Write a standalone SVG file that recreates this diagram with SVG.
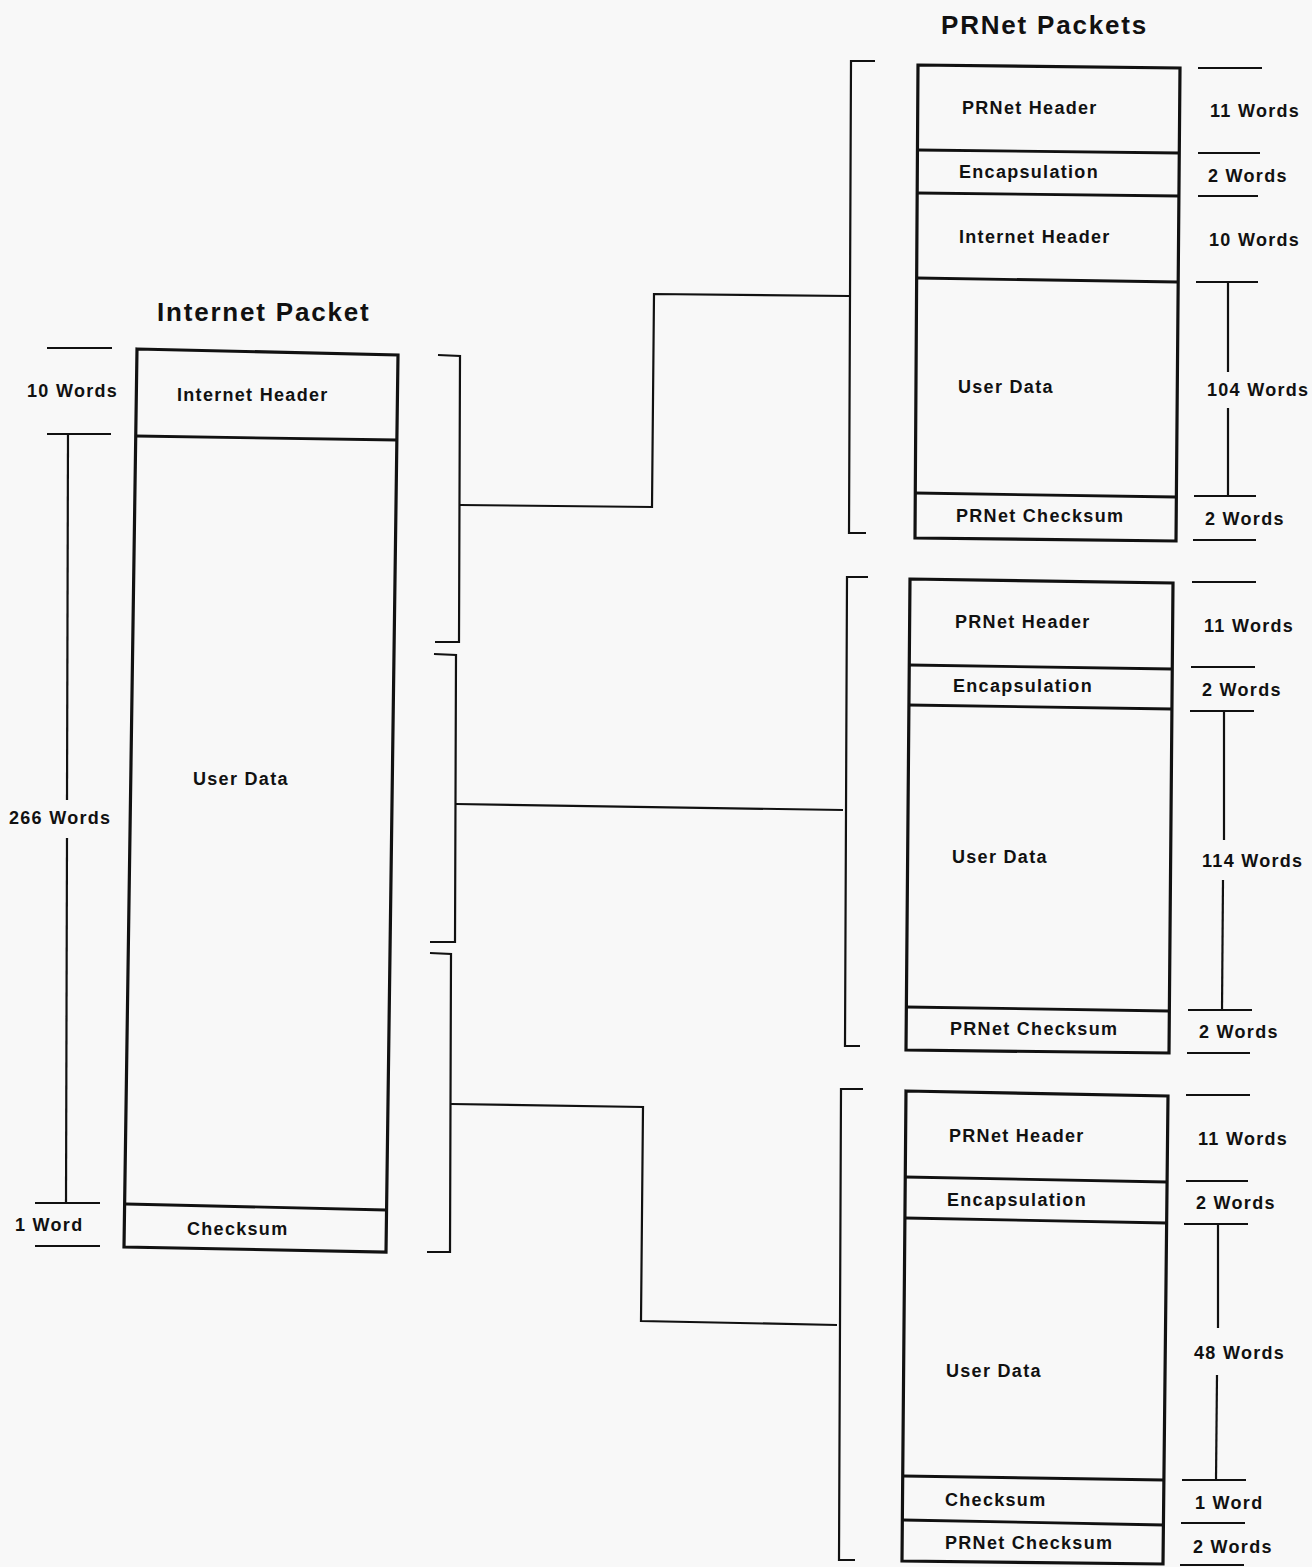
<svg xmlns="http://www.w3.org/2000/svg" width="1312" height="1567" viewBox="0 0 1312 1567">
<style>
text{font-family:"Liberation Sans",Arial,sans-serif;font-weight:bold;fill:#111;}
.lbl{font-size:18px;letter-spacing:1.3px;}
.ttl{font-size:26px;letter-spacing:1.8px;}
.box{fill:none;stroke:#111;stroke-width:3.2;stroke-linejoin:miter;}
.div{stroke:#111;stroke-width:2.8;fill:none;}
.thin{stroke:#111;stroke-width:2.2;fill:none;}
</style>
<rect width="1312" height="1567" fill="#f8f8f8"/>

<g id="internet-packet">
<text class="ttl" x="157" y="321">Internet Packet</text>
<polygon class="box" points="137,349 398,355 386,1252 124,1247"/>
<line class="div" x1="136" y1="436" x2="397" y2="440"/>
<line class="div" x1="126" y1="1204" x2="386" y2="1210"/>
<text class="lbl" x="177" y="401">Internet Header</text>
<text class="lbl" x="193" y="785">User Data</text>
<text class="lbl" x="187" y="1235">Checksum</text>
<line class="thin" x1="47" y1="348" x2="112" y2="348"/>
<text class="lbl" x="27" y="397">10 Words</text>
<line class="thin" x1="47" y1="434" x2="111" y2="434"/>
<line class="thin" x1="68" y1="434" x2="67" y2="800"/>
<text class="lbl" x="9" y="824">266 Words</text>
<line class="thin" x1="67" y1="838" x2="66" y2="1203"/>
<line class="thin" x1="35" y1="1203" x2="100" y2="1203"/>
<text class="lbl" x="15" y="1231">1 Word</text>
<line class="thin" x1="35" y1="1246" x2="100" y2="1246"/>
</g>

<g id="prnet-packet-1">
<text class="ttl" x="941" y="34">PRNet Packets</text>
<polygon class="box" points="918,65 1180,68 1176,541 915,538"/>
<line class="div" x1="918" y1="150" x2="1179" y2="153"/>
<line class="div" x1="917" y1="193" x2="1179" y2="196"/>
<line class="div" x1="917" y1="278" x2="1178" y2="282"/>
<line class="div" x1="915" y1="493" x2="1176" y2="497"/>
<text class="lbl" x="962" y="114">PRNet Header</text>
<text class="lbl" x="959" y="178">Encapsulation</text>
<text class="lbl" x="959" y="243">Internet Header</text>
<text class="lbl" x="958" y="393">User Data</text>
<text class="lbl" x="956" y="522">PRNet Checksum</text>
<line class="thin" x1="1198" y1="68" x2="1262" y2="68"/>
<text class="lbl" x="1210" y="117">11 Words</text>
<line class="thin" x1="1198" y1="153" x2="1260" y2="153"/>
<text class="lbl" x="1208" y="182">2 Words</text>
<line class="thin" x1="1198" y1="196" x2="1258" y2="196"/>
<text class="lbl" x="1209" y="246">10 Words</text>
<line class="thin" x1="1196" y1="282" x2="1258" y2="282"/>
<line class="thin" x1="1228" y1="282" x2="1228" y2="372"/>
<text class="lbl" x="1207" y="396">104 Words</text>
<line class="thin" x1="1228" y1="408" x2="1228" y2="496"/>
<line class="thin" x1="1194" y1="496" x2="1256" y2="496"/>
<text class="lbl" x="1205" y="525">2 Words</text>
<line class="thin" x1="1193" y1="540" x2="1256" y2="540"/>
</g>

<g id="prnet-packet-2">
<polygon class="box" points="910,579 1173,583 1169,1053 906,1050"/>
<line class="div" x1="909" y1="665" x2="1172" y2="669"/>
<line class="div" x1="908" y1="705" x2="1172" y2="709"/>
<line class="div" x1="906" y1="1007" x2="1169" y2="1011"/>
<text class="lbl" x="955" y="628">PRNet Header</text>
<text class="lbl" x="953" y="692">Encapsulation</text>
<text class="lbl" x="952" y="863">User Data</text>
<text class="lbl" x="950" y="1035">PRNet Checksum</text>
<line class="thin" x1="1192" y1="582" x2="1256" y2="582"/>
<text class="lbl" x="1204" y="632">11 Words</text>
<line class="thin" x1="1191" y1="667" x2="1255" y2="667"/>
<text class="lbl" x="1202" y="696">2 Words</text>
<line class="thin" x1="1190" y1="711" x2="1254" y2="711"/>
<line class="thin" x1="1224" y1="711" x2="1224" y2="840"/>
<text class="lbl" x="1202" y="867">114 Words</text>
<line class="thin" x1="1223" y1="880" x2="1222" y2="1010"/>
<line class="thin" x1="1188" y1="1010" x2="1252" y2="1010"/>
<text class="lbl" x="1199" y="1038">2 Words</text>
<line class="thin" x1="1187" y1="1053" x2="1250" y2="1053"/>
</g>

<g id="prnet-packet-3">
<polygon class="box" points="906,1091 1168,1096 1163,1564 902,1561"/>
<line class="div" x1="905" y1="1177" x2="1167" y2="1182"/>
<line class="div" x1="905" y1="1218" x2="1167" y2="1223"/>
<line class="div" x1="903" y1="1476" x2="1164" y2="1480"/>
<line class="div" x1="903" y1="1520" x2="1164" y2="1525"/>
<text class="lbl" x="949" y="1142">PRNet Header</text>
<text class="lbl" x="947" y="1206">Encapsulation</text>
<text class="lbl" x="946" y="1377">User Data</text>
<text class="lbl" x="945" y="1506">Checksum</text>
<text class="lbl" x="945" y="1549">PRNet Checksum</text>
<line class="thin" x1="1186" y1="1095" x2="1250" y2="1095"/>
<text class="lbl" x="1198" y="1145">11 Words</text>
<line class="thin" x1="1186" y1="1181" x2="1248" y2="1181"/>
<text class="lbl" x="1196" y="1209">2 Words</text>
<line class="thin" x1="1184" y1="1224" x2="1248" y2="1224"/>
<line class="thin" x1="1218" y1="1224" x2="1218" y2="1328"/>
<text class="lbl" x="1194" y="1359">48 Words</text>
<line class="thin" x1="1217" y1="1375" x2="1216" y2="1480"/>
<line class="thin" x1="1182" y1="1480" x2="1246" y2="1480"/>
<text class="lbl" x="1195" y="1509">1 Word</text>
<line class="thin" x1="1181" y1="1523" x2="1245" y2="1523"/>
<text class="lbl" x="1193" y="1553">2 Words</text>
<line class="thin" x1="1180" y1="1565" x2="1244" y2="1565"/>
</g>

<g id="connectors">
<polyline class="thin" points="438,355 460,356 459,642 435,642"/>
<polyline class="thin" points="434,654 456,655 455,942 430,942"/>
<polyline class="thin" points="430,953 451,954 450,1252 427,1252"/>
<polyline class="thin" points="460,505 652,507 654,294 849,296"/>
<polyline class="thin" points="875,61 851,61 849,533 866,533"/>
<polyline class="thin" points="456,804 843,810"/>
<polyline class="thin" points="868,577 847,577 845,1046 860,1046"/>
<polyline class="thin" points="451,1104 643,1107 641,1321 837,1325"/>
<polyline class="thin" points="863,1089 841,1089 839,1560 855,1560"/>
</g>
</svg>
